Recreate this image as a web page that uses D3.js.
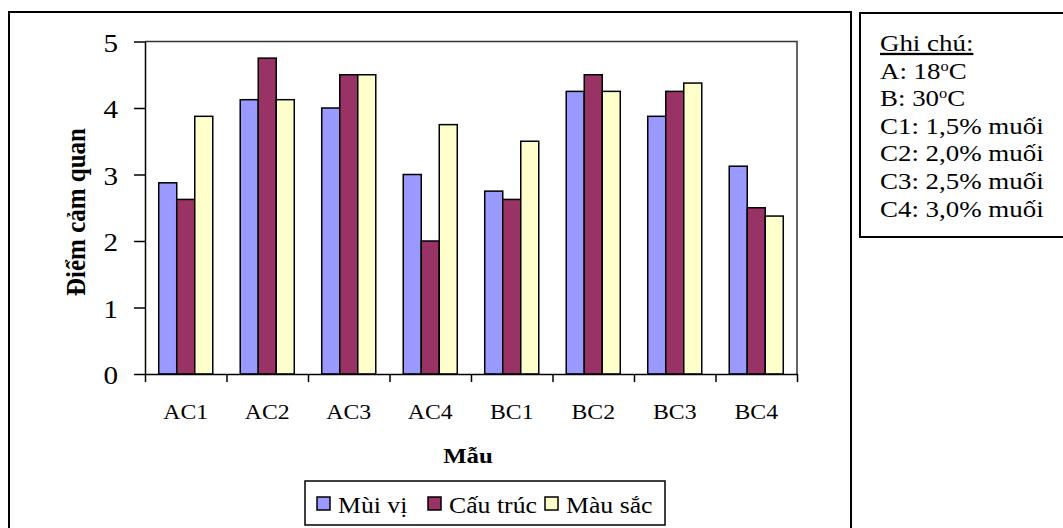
<!DOCTYPE html>
<html>
<head>
<meta charset="utf-8">
<script src="https://cdn.jsdelivr.net/npm/d3@7/dist/d3.min.js"></script>
<style>
  html, body { margin: 0; padding: 0; background: #fff; }
  svg { display: block; }
  text { font-family: "Liberation Serif", "Times New Roman", serif; fill: #000; }
</style>
</head>
<body>
<svg id="chart" width="1063" height="528"></svg>
<script>
const categories = ["AC1", "AC2", "AC3", "AC4", "BC1", "BC2", "BC3", "BC4"];
const seriesNames = ["Mùi vị", "Cấu trúc", "Màu sắc"].map(s => s.normalize("NFC"));
const muiVi   = [2.875, 4.125, 4.0, 3.0, 2.75, 4.25, 3.875, 3.125];
const cauTruc = [2.625, 4.75, 4.5, 2.0, 2.625, 4.5, 4.25, 2.5];
const mauSac  = [3.875, 4.125, 4.5, 3.75, 3.5, 4.25, 4.375, 2.375];
const seriesColors = ["#9999FF", "#993366", "#FFFFCC"];
const yTicks = [0, 1, 2, 3, 4, 5];
const yTitle = "Điểm cảm quan".normalize("NFC");
const xTitle = "Mẫu".normalize("NFC");
const noteTitle = "Ghi chú:".normalize("NFC");
const noteLines = [
  ["A: 18", "o", "C"],
  ["B: 30", "o", "C"],
  ["C1: 1,5% muối"],
  ["C2: 2,0% muối"],
  ["C3: 2,5% muối"],
  ["C4: 3,0% muối"]
].map(p => p.map(s => s.normalize("NFC")));

const seriesValues = [muiVi, cauTruc, mauSac];
const svg = d3.select("#chart");

// outer chart frame
svg.append("rect").attr("x", 9).attr("y", 12).attr("width", 842).attr("height", 530)
  .attr("fill", "#fff").attr("stroke", "#000").attr("stroke-width", 2);

const plot = { left: 145, right: 797, top: 41.5, bottom: 374 };

const y = d3.scaleLinear().domain([0, 5]).range([plot.bottom, plot.top]);
const x0 = d3.scaleBand().domain(categories).range([plot.left, plot.right])
  .paddingInner(0.337).paddingOuter(0.1685);
const x1 = d3.scaleBand().domain(seriesNames).range([0, x0.bandwidth()]);
const xb = d3.scaleLinear().domain([0, categories.length]).range([plot.left, plot.right]);

// plot area border (top and right)
svg.append("path")
  .attr("d", `M${plot.left},${plot.top}H${plot.right}V${plot.bottom}`)
  .attr("fill", "none").attr("stroke", "#333").attr("stroke-width", 1.5);

// bars
const groups = svg.append("g").selectAll("g").data(categories).join("g")
  .attr("transform", d => `translate(${x0(d)},0)`);
groups.selectAll("rect")
  .data((c, i) => seriesNames.map((s, k) => ({ s, k, v: seriesValues[k][i] })))
  .join("rect")
  .attr("x", d => x1(d.s))
  .attr("y", d => y(d.v))
  .attr("width", x1.bandwidth())
  .attr("height", d => y(0) - y(d.v))
  .attr("fill", d => seriesColors[d.k])
  .attr("stroke", "#000").attr("stroke-width", 1.5);

// y axis
const YS = 1.12;
const yAxis = svg.append("g").attr("transform", `translate(${plot.left},0)`)
  .call(d3.axisLeft(y).tickValues(yTicks).tickFormat(d3.format("d")).tickSize(11).tickSizeOuter(0));
yAxis.select(".domain").attr("stroke", "#000").attr("stroke-width", 1.5);
yAxis.selectAll(".tick line").attr("stroke", "#000").attr("stroke-width", 1.5);
yAxis.selectAll(".tick text")
  .attr("x", -27 / YS).attr("dy", "0.38em")
  .attr("transform", `scale(${YS},1)`)
  .style("font-size", "26px").style("font-family", "Liberation Serif");

// x axis: boundary ticks
const xAxisTicks = svg.append("g").attr("transform", `translate(0,${plot.bottom})`)
  .call(d3.axisBottom(xb).tickValues(d3.range(0, categories.length + 1)).tickFormat("").tickSize(8).tickSizeOuter(0));
xAxisTicks.select(".domain").attr("stroke", "#000").attr("stroke-width", 1.5);
xAxisTicks.selectAll(".tick line").attr("stroke", "#000").attr("stroke-width", 1.5);

// x axis: category labels
const XS = 1.08;
const xLabels = svg.append("g").attr("transform", `translate(0,${plot.bottom})`)
  .call(d3.axisBottom(x0).tickSize(0));
xLabels.select(".domain").remove();
xLabels.selectAll(".tick text")
  .attr("y", 45).attr("dy", 0)
  .attr("transform", `scale(${XS},1)`)
  .style("font-size", "22px").style("font-family", "Liberation Serif");

// axis titles
svg.append("text")
  .attr("transform", `translate(85,212) rotate(-90) scale(1,1.1)`)
  .attr("text-anchor", "middle")
  .style("font-size", "25px").style("font-weight", "bold")
  .text(yTitle);

svg.append("text")
  .attr("transform", `translate(468,463) scale(1.18,1)`)
  .attr("text-anchor", "middle")
  .style("font-size", "21px").style("font-weight", "bold")
  .text(xTitle);

// legend
const legend = svg.append("g");
legend.append("rect").attr("x", 305).attr("y", 481).attr("width", 360).attr("height", 44)
  .attr("fill", "#fff").attr("stroke", "#000").attr("stroke-width", 1.5);
const legX = [317, 428, 545];
seriesNames.forEach((s, k) => {
  legend.append("rect").attr("x", legX[k]).attr("y", 497).attr("width", 13).attr("height", 13)
    .attr("fill", seriesColors[k]).attr("stroke", "#000").attr("stroke-width", 1.5);
  legend.append("text")
    .attr("transform", `translate(${legX[k] + 21},513) scale(1.12,1)`)
    .style("font-size", "23px").style("font-family", "Liberation Serif")
    .text(s);
});

// note box
svg.append("rect").attr("x", 860).attr("y", 13).attr("width", 220).attr("height", 224)
  .attr("fill", "#fff").attr("stroke", "#000").attr("stroke-width", 2);
const note = svg.append("g");
note.append("text")
  .attr("transform", `translate(880,51) scale(1.17,1)`)
  .style("font-size", "23px").style("text-decoration", "underline")
  .text(noteTitle);
noteLines.forEach((parts, i) => {
  const t = note.append("text")
    .attr("transform", `translate(880,${51 + 27.6 * (i + 1)}) scale(1.17,1)`)
    .style("font-size", "23px");
  if (parts.length === 3) {
    t.append("tspan").text(parts[0]);
    t.append("tspan").attr("dy", -8).style("font-size", "14px").text(parts[1]);
    t.append("tspan").attr("dy", 8).text(parts[2]);
  } else {
    t.text(parts[0]);
  }
});
</script>
</body>
</html>
